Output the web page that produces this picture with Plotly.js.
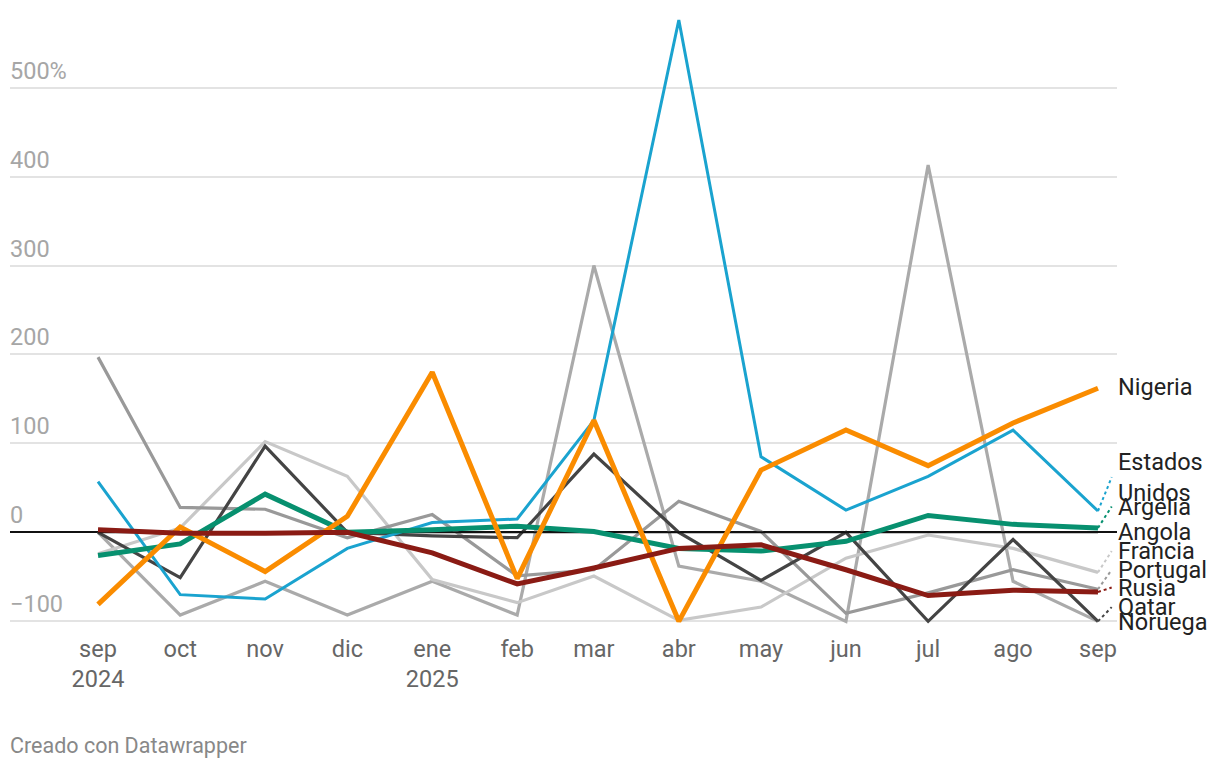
<!DOCTYPE html>
<html>
<head>
<meta charset="utf-8">
<script src="https://cdn.plot.ly/plotly-3.0.1.min.js"></script>
<style>
  html, body { margin: 0; padding: 0; background: #fff; }
  #chart { width: 1220px; height: 768px; }
</style>
</head>
<body>
<div id="chart"></div>
<script>
// ---- data ----
const months = ['2024-09-01','2024-10-01','2024-11-01','2024-12-01','2025-01-01','2025-02-01','2025-03-01','2025-04-01','2025-05-01','2025-06-01','2025-07-01','2025-08-01','2025-09-01'];
const monthLabels = ['sep<br>2024','oct','nov','dic','ene<br>2025','feb','mar','abr','may','jun','jul','ago','sep'];

const nigeria  = [-81, 6, -44, 18, 180, -52, 126, -100, 70, 115, 75, 123, 162];
const eeuu     = [57, -70, -75, -18, 11, 15, 126, 576, 85, 25, 63, 115, 24];
const argelia  = [-26, -13, 43, 0, 3, 7, 1, -18, -21, -10, 19, 9, 5];
const angola   = [0, 0, 0, 0, 0, 0, 0, 0, 0, 0, 0, 0, 0];
const francia  = [-24, 5, 102, 63, -53, -79, -49, -99, -84, -29, -3, -18, -45];
const portugal = [197, 28, 26, -6, 20, -49, -42, 35, 1, -91, -68, -42, -64];
const rusia    = [3, -1, -1, 0, -23, -58, -40, -18, -14, -42, -71, -65, -67];
const qatar    = [0, -51, 97, 0, -4, -6, 88, 0, -54, 0, -100, -8, -100];
const noruega  = [0, -93, -55, -93, -55, -93, 300, -38, -55, -100, 413, -55, -100];

const yTicks = [-100, 0, 100, 200, 300, 400, 500];
const yTickLabels = ['−100', '0', '100', '200', '300', '400', '500%'];

// ---- series styling ----
const series = [
  {name: 'Noruega',  y: noruega,  color: '#aaaaaa', width: 3.2, label: 'Noruega',        ly: -101},
  {name: 'Francia',  y: francia,  color: '#c8c8c8', width: 3.2, label: 'Francia',        ly: -21},
  {name: 'Portugal', y: portugal, color: '#999999', width: 3.2, label: 'Portugal',       ly: -42},
  {name: 'Qatar',    y: qatar,    color: '#444444', width: 3.2, label: 'Qatar',          ly: -84},
  {name: 'Angola',   y: angola,   color: '#111111', width: 2,   label: 'Angola',         ly: 0},
  {name: 'Estados Unidos', y: eeuu, color: '#1aa3cf', width: 3, label: 'Estados<br>Unidos', ly: 62},
  {name: 'Argelia',  y: argelia,  color: '#07906f', width: 5,   label: 'Argelia',        ly: 29},
  {name: 'Nigeria',  y: nigeria,  color: '#fa8c00', width: 5,   label: 'Nigeria',        ly: 163},
  {name: 'Rusia',    y: rusia,    color: '#8a1b14', width: 5,   label: 'Rusia',          ly: -62}
];

const traces = series.map(s => ({
  type: 'scatter', mode: 'lines', x: months, y: s.y, name: s.name,
  line: {color: s.color, width: s.width, shape: 'linear'},
  hoverinfo: 'skip'
}));

const annotations = [];
const shapes = [];
const lastX = months[months.length - 1];
const connX = '2025-09-06';

series.forEach(s => {
  annotations.push({
    xref: 'paper', x: 1, xanchor: 'left', xshift: -1,
    yref: 'y', y: s.ly, yanchor: 'middle',
    text: s.label, showarrow: false, align: 'left',
    font: {family: 'Roboto, sans-serif', size: 23.5, color: '#222'}
  });
  const last = s.y[s.y.length - 1];
  if (Math.abs(last - s.ly) > 4) {
    shapes.push({
      type: 'line', xref: 'x', yref: 'y',
      x0: lastX, y0: last, x1: connX, y1: s.ly,
      line: {color: s.color, width: 2, dash: 'dot'}
    });
  }
});

yTicks.forEach((v, i) => {
  annotations.push({
    xref: 'paper', x: 0, xanchor: 'left', yref: 'y', y: v, yanchor: 'bottom',
    yshift: 1, xshift: -2,
    text: yTickLabels[i], showarrow: false,
    font: {family: 'Roboto, sans-serif', size: 23.5, color: '#a6a6a6'}
  });
});

annotations.push({
  xref: 'paper', yref: 'paper', x: 0, y: -0.156, xanchor: 'left', yanchor: 'top',
  xshift: -2,
  text: 'Creado con Datawrapper', showarrow: false,
  font: {family: 'Roboto, sans-serif', size: 21.5, color: '#888'}
});

const layout = {
  width: 1220, height: 768,
  margin: {l: 10, r: 103, t: 0, b: 136},
  paper_bgcolor: '#fff', plot_bgcolor: '#fff',
  showlegend: false,
  xaxis: {
    type: 'date',
    range: ['2024-07-30 21:00', '2025-09-07 22:30'],
    tickvals: months, ticktext: monthLabels,
    showgrid: false, zeroline: false, showline: false, ticks: '',
    tickfont: {family: 'Roboto, sans-serif', size: 23.5, color: '#666'},
    ticklabelstandoff: 0,
    fixedrange: true
  },
  yaxis: {
    range: [-112, 598.5],
    tickvals: yTicks, showticklabels: false,
    showgrid: true, gridcolor: '#e3e3e3', gridwidth: 2,
    zeroline: true, zerolinecolor: '#111', zerolinewidth: 2,
    ticks: '', showline: false, fixedrange: true
  },
  annotations: annotations,
  shapes: shapes
};

Plotly.newPlot('chart', traces, layout, {staticPlot: true, displayModeBar: false});
</script>
</body>
</html>
